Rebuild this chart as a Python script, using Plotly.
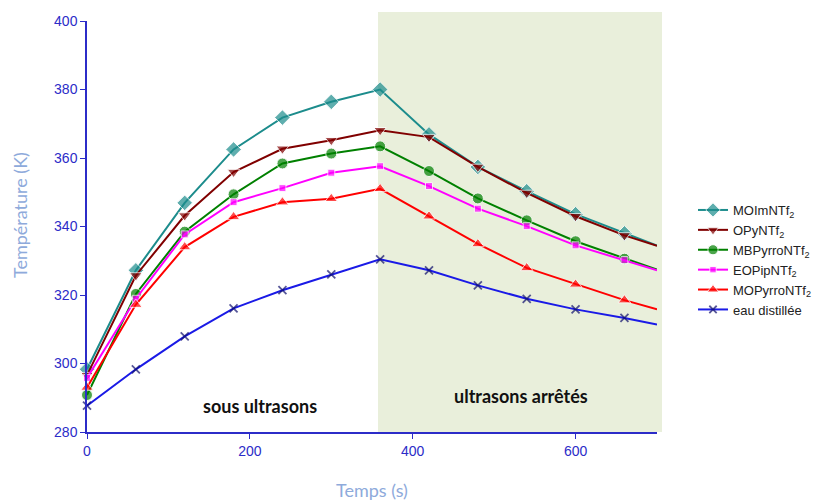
import plotly.graph_objects as go

# temps (s) ; le dernier point (700 s) n'a pas de marqueur
temps = [0, 60, 120, 180, 240, 300, 360, 420, 480, 540, 600, 660, 700]

moim = [298.3, 327.2, 346.9, 362.5, 371.8, 376.4, 380.0, 366.9, 357.4, 350.3, 343.6, 338.0, 334.4]
opy = [296.6, 325.7, 343.2, 355.9, 362.7, 365.2, 368.1, 366.1, 357.4, 349.8, 343.0, 337.4, 334.4]
mbpyrro = [290.8, 320.3, 338.5, 349.4, 358.4, 361.3, 363.4, 356.2, 348.2, 341.8, 335.7, 330.6, 327.4]
eopip = [295.8, 318.9, 337.7, 347.1, 351.2, 355.7, 357.6, 351.8, 345.2, 340.1, 334.5, 330.2, 327.2]
mopyrro = [293.0, 317.2, 334.0, 342.8, 347.1, 348.1, 351.0, 343.0, 334.9, 327.9, 323.1, 318.5, 315.8]
eau = [287.7, 298.3, 307.9, 316.1, 321.4, 326.0, 330.4, 327.2, 322.8, 318.9, 315.8, 313.3, 311.4]

series = [
    ("MOImNTf<sub>2</sub>", moim, "#1c8c8c", "diamond", 12),
    ("OPyNTf<sub>2</sub>", opy, "#800000", "triangle-down", 11),
    ("MBPyrroNTf<sub>2</sub>", mbpyrro, "#008000", "circle", 11),
    ("EOPipNTf<sub>2</sub>", eopip, "#ff00ff", "square", 7),
    ("MOPyrroNTf<sub>2</sub>", mopyrro, "#ff0000", "triangle-up", 11),
    ("eau distillée", eau, "#1a1ae6", "x-thin", 8),
]

AXIS_BLUE = "#2c2cc8"
TITLE_BLUE = "#8eaadb"

# la page décale la figure de 8 px (marge du body) : on vise des pixels écran
OFF = 8
W, H = 834, 502
L, T = 87 - OFF, 21 - OFF
R, B = W - (657 - OFF), H - (432 - OFF)
PW, PH = W - L - R, H - T - B


def px_x(x):
    return (x - OFF - L) / PW


def px_y(y):
    return (H - B - (y - OFF)) / PH


fig = go.Figure()

for name, vals, color, symbol, size in series:
    sizes = [size] * (len(temps) - 1) + [0]
    marker = dict(symbol=symbol, size=sizes, color=color)
    if symbol == "x-thin":
        marker["line"] = dict(color="#10106e", width=1.8)
    fig.add_trace(
        go.Scatter(
            x=temps,
            y=vals,
            name=name,
            mode="lines+markers",
            line=dict(color=color, width=2),
            marker=marker,
            cliponaxis=False,
        )
    )

# zone "ultrasons arrêtés"
fig.add_shape(
    type="rect",
    xref="paper",
    yref="paper",
    x0=px_x(378),
    x1=px_x(662),
    y0=0,
    y1=px_y(12),
    fillcolor="#e9efdb",
    line=dict(width=0),
    layer="below",
)

fig.add_annotation(
    x=212, y=287.6, text="<b>sous ultrasons</b>", showarrow=False,
    font=dict(family="Lato", size=18, color="#111111"),
)
fig.add_annotation(
    x=533, y=290.5, text="<b>ultrasons arrêtés</b>", showarrow=False,
    font=dict(family="Lato", size=18, color="#111111"),
)

# titres des axes
fig.add_annotation(
    xref="paper", yref="paper", x=px_x(20), y=px_y(215),
    xanchor="center", yanchor="middle",
    text="Température (K)", textangle=-90, showarrow=False,
    font=dict(family="Lato", size=18, color=TITLE_BLUE),
)
fig.add_annotation(
    xref="paper", yref="paper", x=px_x(372), y=px_y(490),
    xanchor="center", yanchor="middle",
    text="Temps (s)", showarrow=False,
    font=dict(family="Lato", size=18, color=TITLE_BLUE),
)

axis_style = dict(
    showgrid=False,
    zeroline=False,
    showline=True,
    linecolor=AXIS_BLUE,
    linewidth=1.5,
    ticks="outside",
    ticklen=5,
    tickcolor=AXIS_BLUE,
    tickfont=dict(family="Liberation Sans, Arial", size=14, color=AXIS_BLUE),
    automargin=False,
)

fig.update_layout(
    width=W,
    height=H,
    plot_bgcolor="rgba(0,0,0,0)",
    paper_bgcolor="white",
    margin=dict(l=L, r=R, t=T, b=B, autoexpand=False),
    font=dict(family="Liberation Sans, Arial", size=14, color=AXIS_BLUE),
    xaxis=dict(range=[0, 700], tickvals=[0, 200, 400, 600], **axis_style),
    yaxis=dict(range=[280, 400], tickvals=[280, 300, 320, 340, 360, 380, 400], **axis_style),
    legend=dict(
        x=px_x(693),
        y=px_y(260),
        xanchor="left",
        yanchor="middle",
        font=dict(family="Liberation Sans, Arial", size=13, color="#222222"),
        bgcolor="rgba(0,0,0,0)",
        tracegroupgap=0,
    ),
)

fig.write_html("out.html")
